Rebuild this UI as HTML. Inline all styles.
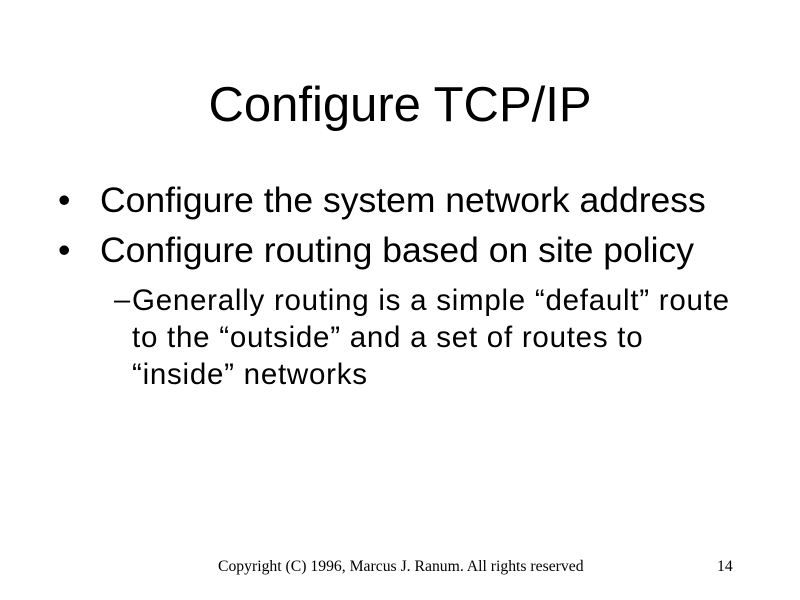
<!DOCTYPE html>
<html><head><style>
html,body{margin:0;padding:0;background:#fff;}
body{width:800px;height:600px;position:relative;overflow:hidden;font-family:"Liberation Sans",sans-serif;color:#000;}
.t{position:absolute;white-space:nowrap;}
</style></head><body>
<div class="t" style="left:0;width:800px;text-align:center;top:78px;font-size:49px;line-height:54px;">Configure TCP/IP</div>
<div class="t" style="left:58px;top:181px;font-size:35.5px;line-height:38px;">•</div>
<div class="t" style="left:100px;top:181px;font-size:35.5px;line-height:38px;">Configure the system network address</div>
<div class="t" style="left:58px;top:231px;font-size:35.5px;line-height:38px;">•</div>
<div class="t" style="left:100px;top:231px;font-size:35.5px;line-height:38px;">Configure routing based on site policy</div>
<div class="t" style="left:114px;top:282px;font-size:29px;line-height:37px;">–</div>
<div class="t" style="left:132px;top:282px;font-size:29.5px;line-height:37px;letter-spacing:0.75px;">Generally routing is a simple “default” route<br>to the “outside” and a set of routes to<br>“inside” networks</div>
<div class="t" style="left:218px;top:558px;font-family:'Liberation Serif',serif;font-size:15.7px;">Copyright (C) 1996, Marcus J. Ranum. All rights reserved</div>
<div class="t" style="left:717px;top:558px;font-family:'Liberation Serif',serif;font-size:15.7px;">14</div>
</body></html>
